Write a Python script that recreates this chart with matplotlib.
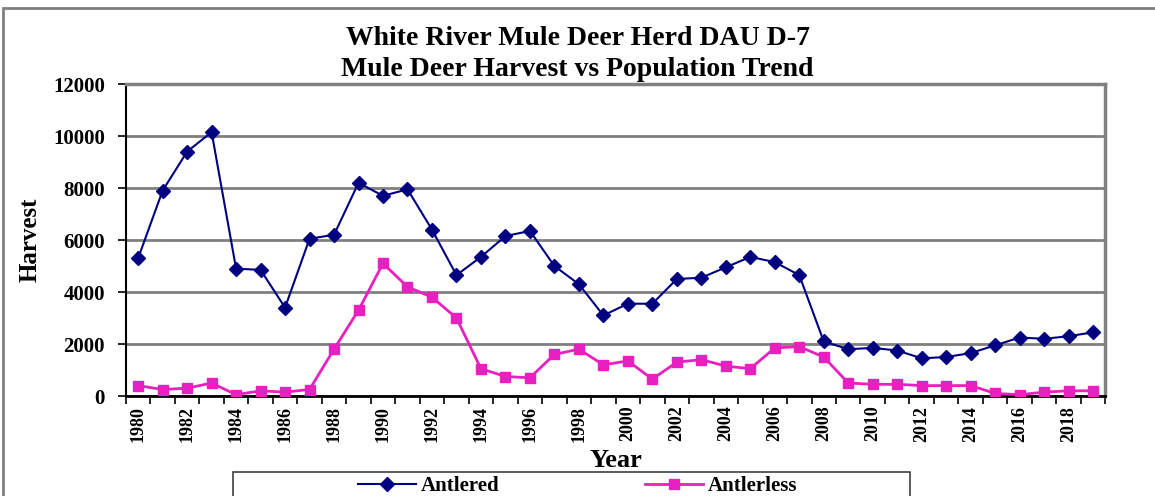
import matplotlib.pyplot as plt
from matplotlib.patches import Rectangle

years = list(range(1980, 2020))

antlered = [
    5300, 7900, 9400, 10150, 4900, 4850, 3400, 6050, 6200, 8200,
    7700, 7950, 6400, 4650, 5350, 6150, 6350, 5000, 4300, 3100,
    3550, 3550, 4500, 4550, 4950, 5350, 5150, 4650, 2100, 1800,
    1850, 1750, 1450, 1500, 1650, 1950, 2250, 2200, 2300, 2450,
]

antlerless = [
    400, 250, 300, 500, 50, 200, 150, 250, 1800, 3300,
    5100, 4200, 3800, 3000, 1050, 750, 700, 1600, 1800, 1200,
    1350, 650, 1300, 1400, 1150, 1050, 1850, 1900, 1500, 500,
    450, 450, 400, 400, 400, 100, 50, 150, 200, 200,
]

plt.rcParams["font.family"] = ["Liberation Serif", "DejaVu Serif"]
plt.rcParams["font.weight"] = "bold"

fig = plt.figure(figsize=(11.55, 4.96), dpi=100)
ax = fig.add_axes([0.109, 0.2016, 0.848, 0.629])

x = list(range(len(years)))
ax.plot(x, antlered, color="#000080", marker="D", markersize=7, linewidth=1.5,
        label="Antlered", zorder=3)
ax.plot(x, antlerless, color="#E820C0", marker="s", markersize=7, linewidth=2,
        label="Antlerless", zorder=3)

ax.set_xlim(-0.5, len(years) - 0.5)
ax.set_ylim(0, 12000)
ax.set_yticks(range(0, 12001, 2000))
ax.tick_params(axis="y", labelsize=15, length=6, width=1.2, direction="out", pad=9)
ax.yaxis.grid(True, color="#808080", linewidth=2)
ax.set_axisbelow(True)

# labels every other year, ticks on category borders
ax.set_xticks(x[::2])
ax.set_xticklabels([str(y) for y in years[::2]], rotation=90, fontsize=13, fontweight="bold")
ax.tick_params(axis="x", length=0, pad=7)
ax.set_xticks([i - 0.5 for i in range(len(years) + 1)], minor=True)
ax.tick_params(axis="x", which="minor", length=6, width=1.2, direction="out")

for s in ["top", "right"]:
    ax.spines[s].set_color("#808080")
    ax.spines[s].set_linewidth(2.5)
ax.spines["left"].set_linewidth(1.5)
ax.spines["bottom"].set_linewidth(2)

ax.set_ylabel("Harvest", fontsize=18, fontweight="bold", labelpad=8)
ax.set_xlabel("Year", fontsize=19, fontweight="bold", labelpad=5)

fig.text(0.5, 0.922, "White River Mule Deer Herd DAU D-7", ha="center", va="center",
         fontsize=20, fontweight="bold")
fig.text(0.5, 0.859, "Mule Deer Harvest vs Population Trend", ha="center", va="center",
         fontsize=20, fontweight="bold")

# outer chart frame
fig.patches.append(Rectangle((0.003, -0.05), 1.2, 1.033, transform=fig.transFigure,
                             fill=False, edgecolor="#808080", linewidth=2))

# legend box (runs past the bottom edge like the original)
fig.patches.append(Rectangle((233 / 1155, -0.1), 677 / 1155, 0.148, transform=fig.transFigure,
                             fill=False, edgecolor="#404040", linewidth=1.2))
leg = fig.legend(loc="center", bbox_to_anchor=(0.5, 0.02), ncol=2, fontsize=15,
                 frameon=False, handlelength=2.8, columnspacing=7, handletextpad=0.2)

fig.savefig("out.png", dpi=100)
